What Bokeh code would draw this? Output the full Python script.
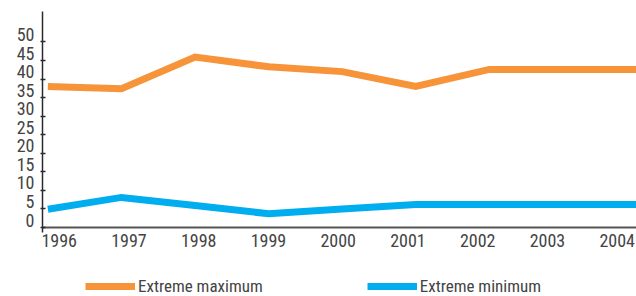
from bokeh.plotting import figure
from bokeh.models import (Range1d, LinearAxis, FixedTicker, Legend, LegendItem)
from bokeh.embed import file_html
from bokeh.resources import INLINE

years = [1996, 1997, 1998, 1999, 2000, 2001, 2002, 2003, 2004]
extreme_max = [38.0, 37.4, 45.9, 43.3, 42.0, 38.0, 42.6, 42.6, 42.6]
extreme_min = [4.9, 8.1, 5.9, 3.7, 5.0, 6.2, 6.2, 6.2, 6.2]
y_ticks = [0, 5, 10, 15, 20, 25, 30, 35, 40, 45, 50]
series_names = ["Extreme maximum", "Extreme minimum"]

ORANGE = "#F7943A"
BLUE = "#00AEEF"
FONT = "Roboto Condensed"
TXT = "#444444"

Y0, Y1 = -18.6, 58.2      # frame reaches page bottom; legend lives inside it
LAB_SHIFT = 2.0           # tick labels sit a little above their tick marks

p = figure(width=636, height=296, output_backend="svg", toolbar_location=None,
           x_range=Range1d(1995.927, 2004.0), y_range=Range1d(Y0, Y1),
           x_axis_location=None, y_axis_location=None,
           min_border_top=11, min_border_right=0, min_border_bottom=0,
           min_border_left=42)
p.outline_line_color = None
p.background_fill_color = "white"
p.border_fill_color = "white"
p.xgrid.visible = False
p.ygrid.visible = False

p.extra_x_ranges = {"xlab": Range1d(1995.761, 2004.277)}
p.extra_y_ranges = {"ylab": Range1d(Y0 - LAB_SHIFT, Y1 - LAB_SHIFT)}

# y axis: labels at major ticks, tick marks drawn as minor ticks at true positions
yax = LinearAxis(y_range_name="ylab",
                 ticker=FixedTicker(ticks=y_ticks,
                                    minor_ticks=[t - LAB_SHIFT for t in y_ticks]))
yax.bounds = (-1.3 - LAB_SHIFT, Y1 - LAB_SHIFT)
yax.axis_line_color = "#2a2a2a"
yax.axis_line_width = 1.5
yax.major_tick_line_color = None
yax.major_tick_in = 0
yax.major_tick_out = 0
yax.minor_tick_line_color = "#2a2a2a"
yax.minor_tick_line_width = 1.5
yax.minor_tick_in = 3
yax.minor_tick_out = 2
yax.major_label_standoff = 6
yax.major_label_text_font = FONT
yax.major_label_text_font_size = "18px"
yax.major_label_text_color = TXT
p.add_layout(yax, "left")

# x axis pinned at y = 0
xax = LinearAxis(x_range_name="xlab", ticker=FixedTicker(ticks=years))
xax.fixed_location = 0
xax.axis_line_color = "#555555"
xax.axis_line_width = 2
xax.major_tick_line_color = None
xax.minor_tick_line_color = None
xax.major_tick_in = 0
xax.major_tick_out = 0
xax.major_label_standoff = 7
xax.major_label_text_font = FONT
xax.major_label_text_font_size = "18px"
xax.major_label_text_color = TXT
p.add_layout(xax, "below")

r1 = p.line(years, extreme_max, line_color=ORANGE, line_width=7, line_join="miter")
r2 = p.line(years, extreme_min, line_color=BLUE, line_width=7, line_join="miter")

legend = Legend(items=[LegendItem(label=series_names[0], renderers=[r1]),
                       LegendItem(label=series_names[1], renderers=[r2])],
                orientation="horizontal", location=(43, 0))
legend.border_line_color = None
legend.background_fill_alpha = 0
legend.padding = 0
legend.margin = 0
legend.spacing = 104
legend.glyph_width = 50
legend.glyph_height = 20
legend.label_standoff = 3
legend.label_text_font = FONT
legend.label_text_font_size = "17px"
legend.label_text_color = TXT
p.add_layout(legend, "center")

open("out.html", "w").write(file_html(p, INLINE))
